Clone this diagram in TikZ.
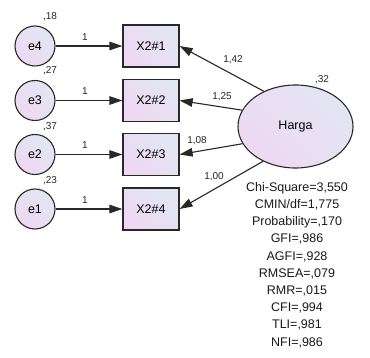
\documentclass[tikz,border=0pt]{standalone}
\usepackage{fontspec}
\setmainfont{Liberation Sans}
\usetikzlibrary{shapes.geometric,arrows.meta}
\definecolor{fillA}{RGB}{226,230,243}
\definecolor{fillB}{RGB}{238,216,242}
\definecolor{edge}{RGB}{40,40,40}
\tikzset{
  grad/.style={left color=fillA, right color=fillB, shading angle=-45},
  errvar/.style={circle, draw=edge, line width=1.1pt, grad, minimum size=40pt, inner sep=0pt,
    font=\fontsize{12.5}{14}\selectfont},
  obsvar/.style={rectangle, draw=edge, line width=1.2pt, grad, minimum width=56pt, minimum height=42pt,
    inner sep=0pt, font=\fontsize{12.5}{14}\selectfont},
  latvar/.style={ellipse, draw=edge, line width=1.1pt, grad, minimum width=115pt, minimum height=83pt,
    inner sep=0pt, font=\fontsize{12.5}{14}\selectfont},
  path/.style={draw=edge, line width=1.1pt, -{Triangle[length=13pt,width=8.5pt]}},
  small/.style={font=\fontsize{10}{12}\selectfont, text=black!85, inner sep=0pt},
}
\begin{document}
\begin{tikzpicture}[x=1pt,y=-1pt]
\useasboundingbox (0,0) rectangle (370,358);

% error terms
\node[errvar] (e4) at (35,46) {e4};
\node[errvar] (e3) at (35,100.5) {e3};
\node[errvar] (e2) at (35,154.5) {e2};
\node[errvar] (e1) at (35,209) {e1};

% indicators
\node[obsvar] (x1) at (151,46) {X2\#1};
\node[obsvar] (x2) at (151,100.5) {X2\#2};
\node[obsvar] (x3) at (151,154.5) {X2\#3};
\node[obsvar] (x4) at (151,209) {X2\#4};

% latent factor
\node[latvar] (harga) at (295.5,126.5) {Harga};

% error paths
\draw[path] (e4) -- (x1);
\draw[path] (e3) -- (x2);
\draw[path] (e2) -- (x3);
\draw[path] (e1) -- (x4);
\node[small] (w4) at (85,37) {1};
\node[small] (w3) at (85,91.5) {1};
\node[small] (w2) at (85,145.5) {1};
\node[small] (w1) at (85,200) {1};

% loadings
\draw[path] (harga.132.5) -- (x1.east);
\draw[path] (harga.163) -- (x2.east);
\draw[path] (harga.198) -- (x3.east);
\draw[path] (harga.227.5) -- (x4.east);
\node[small] (l1) at (233,60) {1,42};
\node[small] (l2) at (222,97) {1,25};
\node[small] (l3) at (197,141) {1,08};
\node[small] (l4) at (214,177) {1,00};

% variances
\node[small] (v4) at (50,17) {,18};
\node[small] (v3) at (50,71) {,27};
\node[small] (v2) at (50,127) {,37};
\node[small] (v1) at (50,181) {,23};
\node[small] (vh) at (322,80) {,32};

% fit indices
\node[align=center, inner sep=0pt, text=black!90, font=\fontsize{12.5}{17.2}\selectfont] (fit) at (297,265)
{Chi-Square=3,550\\CMIN/df=1,775\\Probability=,170\\GFI=,986\\AGFI=,928\\RMSEA=,079\\RMR=,015\\CFI=,994\\TLI=,981\\NFI=,986};
\end{tikzpicture}
\end{document}
